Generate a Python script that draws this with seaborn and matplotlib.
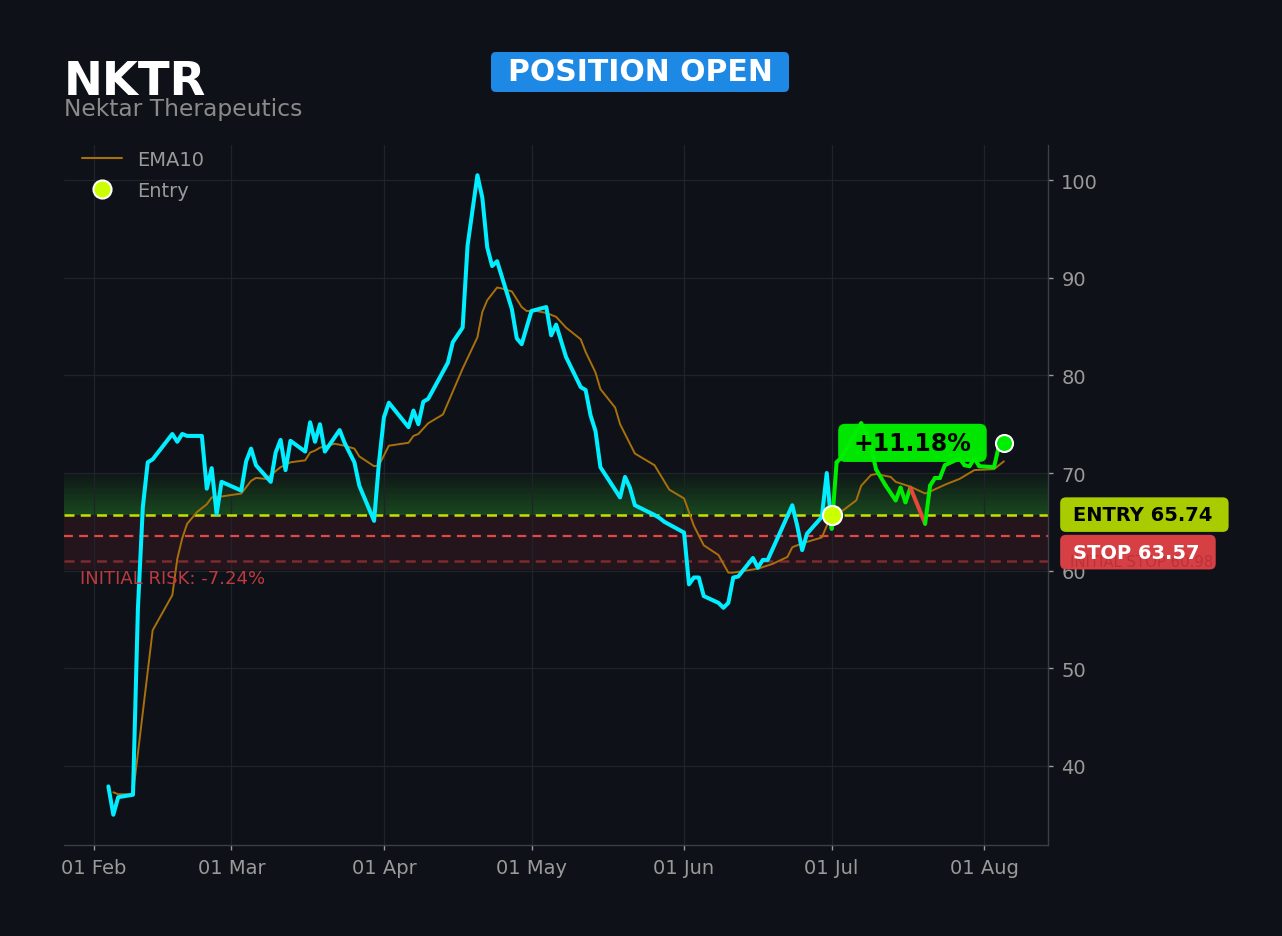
import numpy as np
import pandas as pd
import matplotlib
matplotlib.use("Agg")
import matplotlib.pyplot as plt
import matplotlib.dates as mdates
import matplotlib.transforms as mtransforms
from matplotlib.lines import Line2D
from matplotlib.patches import FancyBboxPatch
import seaborn as sns

# ---------------- data ----------------
TICKER = "NKTR"
COMPANY = "Nektar Therapeutics"
STATUS = "POSITION OPEN"

price_dates = [
    "2025-02-04", "2025-02-05", "2025-02-06", "2025-02-09", "2025-02-10", "2025-02-11",
    "2025-02-12", "2025-02-13", "2025-02-17", "2025-02-18", "2025-02-19", "2025-02-20",
    "2025-02-23", "2025-02-24", "2025-02-25", "2025-02-26", "2025-02-27", "2025-03-03",
    "2025-03-04", "2025-03-05", "2025-03-06", "2025-03-09", "2025-03-10", "2025-03-11",
    "2025-03-12", "2025-03-13", "2025-03-16", "2025-03-17", "2025-03-18", "2025-03-19",
    "2025-03-20", "2025-03-23", "2025-03-24", "2025-03-26", "2025-03-27", "2025-03-30",
    "2025-03-31", "2025-04-01", "2025-04-02", "2025-04-06", "2025-04-07", "2025-04-08",
    "2025-04-09", "2025-04-10", "2025-04-14", "2025-04-15", "2025-04-17", "2025-04-18",
    "2025-04-20", "2025-04-21", "2025-04-22", "2025-04-23", "2025-04-24", "2025-04-27",
    "2025-04-28", "2025-04-29", "2025-05-01", "2025-05-04", "2025-05-05", "2025-05-06",
    "2025-05-08", "2025-05-11", "2025-05-12", "2025-05-13", "2025-05-14", "2025-05-15",
    "2025-05-19", "2025-05-20", "2025-05-21", "2025-05-22", "2025-05-26", "2025-05-27",
    "2025-05-28", "2025-06-01", "2025-06-02", "2025-06-03", "2025-06-04", "2025-06-05",
    "2025-06-08", "2025-06-09", "2025-06-10", "2025-06-11", "2025-06-12", "2025-06-15",
    "2025-06-16", "2025-06-17", "2025-06-18", "2025-06-23", "2025-06-24", "2025-06-25",
    "2025-06-26", "2025-06-29", "2025-06-30", "2025-07-01", "2025-07-02", "2025-07-03",
    "2025-07-07", "2025-07-09", "2025-07-10", "2025-07-12", "2025-07-14", "2025-07-15",
    "2025-07-16", "2025-07-17", "2025-07-20", "2025-07-21", "2025-07-22", "2025-07-23",
    "2025-07-24", "2025-07-27", "2025-07-28", "2025-07-29", "2025-07-30", "2025-07-31",
    "2025-08-03", "2025-08-04", "2025-08-05",
]
price_values = [
    37.9, 35.0, 36.8, 37.05, 56.1, 66.5,
    71.1, 71.4, 74.0, 73.2, 74.0, 73.8,
    73.8, 68.4, 70.5, 65.8, 69.1, 68.2,
    71.2, 72.5, 70.8, 69.1, 72.1, 73.4,
    70.3, 73.3, 72.2, 75.2, 73.2, 75.0,
    72.2, 74.4, 73.1, 71.1, 68.7, 65.1,
    71.1, 75.7, 77.2, 74.7, 76.4, 75.0,
    77.3, 77.6, 81.3, 83.4, 84.9, 93.3,
    100.5, 98.2, 93.1, 91.2, 91.7, 86.8,
    83.8, 83.2, 86.6, 87.0, 84.1, 85.2,
    81.9, 78.8, 78.5, 75.9, 74.3, 70.6,
    67.5, 69.6, 68.5, 66.7, 65.7, 65.4,
    65.0, 63.9, 58.6, 59.3, 59.3, 57.4,
    56.7, 56.2, 56.7, 59.3, 59.4, 61.3,
    60.3, 61.1, 61.1, 66.7, 64.6, 62.1,
    63.8, 65.5, 70.0, 64.3, 71.1, 71.6,
    75.1, 72.8, 70.4, 68.7, 67.2, 68.5,
    67.0, 68.5, 64.8, 68.7, 69.5, 69.5,
    70.8, 71.5, 70.8, 70.7, 71.5, 70.7,
    70.6, 72.8, 73.09,
]

ema_dates = [
    "2025-02-05", "2025-02-06", "2025-02-09", "2025-02-13", "2025-02-17", "2025-02-18",
    "2025-02-19", "2025-02-20", "2025-02-22", "2025-02-24", "2025-02-25", "2025-02-27",
    "2025-03-03", "2025-03-05", "2025-03-06", "2025-03-08", "2025-03-11", "2025-03-13",
    "2025-03-16", "2025-03-17", "2025-03-18", "2025-03-19", "2025-03-22", "2025-03-24",
    "2025-03-26", "2025-03-27", "2025-03-30", "2025-03-31", "2025-04-02", "2025-04-06",
    "2025-04-07", "2025-04-08", "2025-04-10", "2025-04-13", "2025-04-17", "2025-04-20",
    "2025-04-21", "2025-04-22", "2025-04-24", "2025-04-25", "2025-04-27", "2025-04-29",
    "2025-04-30", "2025-05-02", "2025-05-04", "2025-05-06", "2025-05-08", "2025-05-11",
    "2025-05-12", "2025-05-14", "2025-05-15", "2025-05-18", "2025-05-19", "2025-05-22",
    "2025-05-26", "2025-05-29", "2025-06-01", "2025-06-03", "2025-06-05", "2025-06-08",
    "2025-06-10", "2025-06-11", "2025-06-16", "2025-06-19", "2025-06-22", "2025-06-23",
    "2025-06-25", "2025-06-29", "2025-06-30", "2025-07-01", "2025-07-06", "2025-07-07",
    "2025-07-09", "2025-07-10", "2025-07-13", "2025-07-14", "2025-07-17", "2025-07-20",
    "2025-07-21", "2025-07-24", "2025-07-27", "2025-07-30", "2025-08-03", "2025-08-05",
]
ema_values = [
    37.3, 37.1, 37.1, 53.9, 57.5, 61.2,
    63.3, 64.8, 66.0, 66.8, 67.5, 67.6,
    67.9, 69.2, 69.5, 69.4, 70.6, 71.1,
    71.3, 72.1, 72.3, 72.6, 73.0, 72.8,
    72.5, 71.7, 70.7, 70.8, 72.8, 73.1,
    73.8, 74.0, 75.1, 76.0, 80.7, 83.9,
    86.5, 87.7, 89.0, 88.9, 88.6, 87.0,
    86.6, 86.6, 86.4, 86.0, 84.9, 83.7,
    82.4, 80.3, 78.6, 76.7, 75.0, 72.0,
    70.8, 68.3, 67.4, 64.6, 62.6, 61.6,
    59.8, 59.8, 60.2, 60.7, 61.4, 62.4,
    62.8, 63.4, 64.6, 65.3, 67.2, 68.7,
    69.8, 69.9, 69.6, 69.1, 68.6, 67.9,
    68.1, 68.8, 69.4, 70.3, 70.4, 71.2,
]

entry_date = "2025-07-01"
entry_price = 65.74
stop_price = 63.57
initial_stop = 60.98
target_zone_top = 70.05
risk_zone_bottom = 60.1
y_ticks = [40, 50, 60, 70, 80, 90, 100]
x_limits = ("2025-01-26", "2025-08-14")
y_limits = (31.9, 103.6)
pct_label_date = "2025-07-17 10:00"

# ---------------- styling ----------------
BG = "#0e1117"
GRID = "#1f232a"
TXT = "#9a9a9a"
CYAN = "#00eeff"
GREEN = "#00ee00"
RED_SEG = "#e8453c"
EMA_C = "#a8700c"
ENTRY_C = "#ccff00"
ENTRY_LINE = "#c8e000"
STOP_LINE = "#e04848"
INIT_LINE = "#7a2c30"

sns.set_theme(style="dark", rc={
    "axes.facecolor": BG,
    "figure.facecolor": BG,
    "axes.edgecolor": "#3b3f47",
    "grid.color": GRID,
    "text.color": TXT,
    "xtick.color": TXT,
    "ytick.color": TXT,
})
plt.rcParams["font.family"] = ["DejaVu Sans"]

fig = plt.figure(figsize=(12.82, 9.37), dpi=100, facecolor=BG)
ax = fig.add_axes([0.05, 0.0971, 0.7676, 0.7471])
ax.set_facecolor(BG)

price = pd.DataFrame({"date": pd.to_datetime(price_dates), "price": price_values})
ema = pd.DataFrame({"date": pd.to_datetime(ema_dates), "ema": ema_values})
entry_ts = pd.Timestamp(entry_date)

# zones
ax.axhspan(risk_zone_bottom, entry_price, color="#5a1f28", alpha=0.30, lw=0, zorder=0.5)
n_str = 24
edges = np.linspace(entry_price, target_zone_top, n_str + 1)
for i in range(n_str):
    a = 0.36 * (1 - i / n_str) + 0.03
    ax.axhspan(edges[i], edges[i + 1], color="#2a9a2a", alpha=a, lw=0, zorder=0.5)

# level lines
ax.axhline(entry_price, color=ENTRY_LINE, lw=1.8, ls=(0, (4, 2.5)), zorder=2)
ax.axhline(stop_price, color=STOP_LINE, lw=1.6, ls=(0, (4, 2.8)), zorder=2)
ax.axhline(initial_stop, color=INIT_LINE, lw=1.8, ls=(0, (4, 2.5)), zorder=2)

# EMA
sns.lineplot(data=ema, x="date", y="ema", color=EMA_C, lw=1.4, estimator=None,
             sort=False, legend=False, ax=ax, zorder=3)

# price before entry
pre = price[price["date"] <= entry_ts]
sns.lineplot(data=pre, x="date", y="price", color=CYAN, lw=2.9, estimator=None,
             sort=False, legend=False, ax=ax, zorder=4)

# price after entry, coloured by segment
post = price[price["date"] >= entry_ts].reset_index(drop=True)
rows = []
pal = {}
for i in range(len(post) - 1):
    sid = f"s{i}"
    col = GREEN if post.loc[i + 1, "price"] >= entry_price else RED_SEG
    pal[sid] = col
    rows.append({"date": post.loc[i, "date"], "price": post.loc[i, "price"], "seg": sid})
    rows.append({"date": post.loc[i + 1, "date"], "price": post.loc[i + 1, "price"], "seg": sid})
seg_df = pd.DataFrame(rows)
sns.lineplot(data=seg_df, x="date", y="price", hue="seg", palette=pal, lw=2.9,
             estimator=None, sort=False, legend=False, ax=ax, zorder=4,
             solid_capstyle="round")

# markers
sns.scatterplot(x=[entry_ts], y=[entry_price], color=ENTRY_C, s=190, edgecolor="white",
                linewidth=1.5, zorder=6, ax=ax, legend=False)
last = price.iloc[-1]
sns.scatterplot(x=[last["date"]], y=[last["price"]], color=GREEN, s=150, edgecolor="white",
                linewidth=1.5, zorder=6, ax=ax, legend=False)

# percentage label (box behind line, text above)
pct = (last["price"] - entry_price) / entry_price * 100
ptxt = f"+{pct:.2f}%" if pct >= 0 else f"{pct:.2f}%"
px = pd.Timestamp(pct_label_date)
ax.text(px, last["price"], " " + ptxt + " ", fontsize=17, fontweight="bold", color="#00e600",
        ha="center", va="center", zorder=3.5,
        bbox=dict(boxstyle="round,pad=0.3,rounding_size=0.3", fc="#00e600", ec="none"))
ax.text(px, last["price"], ptxt, fontsize=17, fontweight="bold", color="black",
        ha="center", va="center", zorder=7)

# axes cosmetics
ax.set_xlim(pd.Timestamp(x_limits[0]), pd.Timestamp(x_limits[1]))
ax.set_ylim(*y_limits)
ax.set_yticks(y_ticks)
ax.yaxis.tick_right()
ax.xaxis.set_major_locator(mdates.MonthLocator())
ax.xaxis.set_major_formatter(mdates.DateFormatter("%d %b"))
ax.set_xlabel("")
ax.set_ylabel("")
ax.grid(True, color=GRID, lw=0.9)
for s in ["top", "left"]:
    ax.spines[s].set_visible(False)
for s in ["right", "bottom"]:
    ax.spines[s].set_color("#3b3f47")
    ax.spines[s].set_linewidth(1.0)
ax.tick_params(axis="both", colors=TXT, labelsize=14, length=3.5, width=1, pad=6,
               bottom=True, right=True, left=False)

# right-side labels
tr = mtransforms.blended_transform_factory(ax.transAxes, ax.transData)
lx = 1.0201
tx = 1.0254
ax.text(lx, entry_price, f" ENTRY {entry_price:.2f} ", transform=tr, fontsize=14,
        fontweight="bold", color="#a8cc00", ha="left", va="center", clip_on=False, zorder=10,
        bbox=dict(boxstyle="round,pad=0.4,rounding_size=0.3", fc="#a8cc00", ec="none"))
ax.text(tx, entry_price, f"ENTRY {entry_price:.2f}", transform=tr, fontsize=14,
        fontweight="bold", color="black", ha="left", va="center", clip_on=False, zorder=12)
stop_label_y = 61.9
ax.text(lx, stop_label_y, f" STOP {stop_price:.2f} ", transform=tr, fontsize=14,
        fontweight="bold", color="#d64045", ha="left", va="center", clip_on=False, zorder=10,
        bbox=dict(boxstyle="round,pad=0.4,rounding_size=0.3", fc="#d64045", ec="none"))
ax.text(1.0224, initial_stop, f"INITIAL STOP {initial_stop:.2f}", transform=tr,
        fontsize=10.7, color="#b02c34", alpha=0.7, ha="left", va="center", clip_on=False,
        zorder=11)
ax.text(tx, stop_label_y, f"STOP {stop_price:.2f}", transform=tr, fontsize=14,
        fontweight="bold", color="white", ha="left", va="center", clip_on=False, zorder=12)

# initial risk
risk = (initial_stop - entry_price) / entry_price * 100
ax.text(0.0163, 59.25, f"INITIAL RISK: {risk:.2f}%", transform=tr, fontsize=13,
        color="#c0393f", ha="left", va="center", zorder=5)

# legend
handles = [
    Line2D([0], [0], color=EMA_C, lw=1.5, label="EMA10"),
    Line2D([0], [0], marker="o", ls="", markerfacecolor=ENTRY_C, markeredgecolor="white",
           markersize=13, mew=1.5, label="Entry"),
]
leg = ax.legend(handles=handles, loc="upper left", bbox_to_anchor=(0.0, 1.018),
                frameon=False, fontsize=14, labelcolor=TXT, handlelength=2.1,
                handletextpad=0.75, labelspacing=0.62)

# titles
fig.text(0.05, 0.8986, TICKER, fontsize=33.5, fontweight="bold", color="white",
         ha="left", va="baseline")
fig.text(0.05, 0.8762, COMPANY, fontsize=16.8, color="#8a8a8a", ha="left", va="baseline")
badge = FancyBboxPatch((4.91, 8.44), 2.98, 0.40,
                       boxstyle="round,pad=0,rounding_size=0.05",
                       transform=fig.dpi_scale_trans, fc="#1e88e5", ec="none")
fig.patches.append(badge)
fig.text(6.40 / 12.82, 8.64 / 9.37, STATUS, fontsize=21.5, fontweight="bold", color="white",
         ha="center", va="center")

fig.savefig("out.png", dpi=100, facecolor=BG)
